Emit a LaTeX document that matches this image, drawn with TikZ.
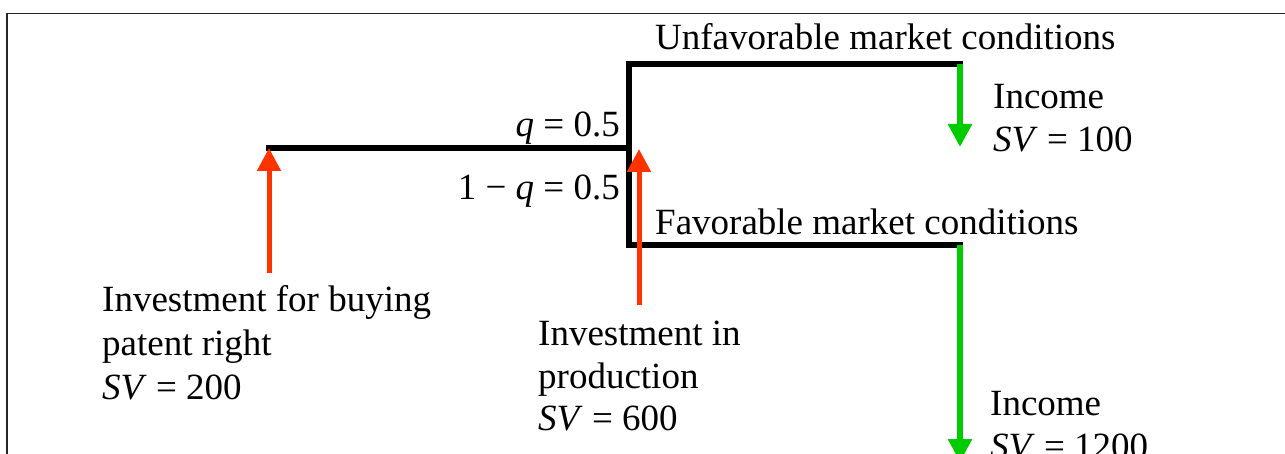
\documentclass[tikz,border=0pt]{standalone}
\usepackage{fontspec}
\setmainfont{Liberation Serif}
\usetikzlibrary{arrows.meta}
\definecolor{redarr}{HTML}{FF3300}
\definecolor{greenarr}{HTML}{00CC00}
\begin{document}
\begin{tikzpicture}[x=1pt,y=-1pt,
  lbl/.style={inner sep=0pt,font=\fontsize{37}{43}\selectfont},
  tree/.style={line width=6pt,line join=miter,line cap=rect},
  upinv/.style={redarr,line width=5pt,-{Triangle[width=23pt,length=23pt]}},
  downinc/.style={greenarr,line width=5.5pt,-{Triangle[width=23pt,length=23pt]}}]
\useasboundingbox (0,0) rectangle (1285,454);
\clip (0,0) rectangle (1285,454);
\draw[line width=1.5pt,black!85] (7,13.5) rectangle (1300,480);
% tree coordinates
\coordinate (root) at (269,148);
\coordinate (fork) at (629,148);
\coordinate (utop) at (629,64);
\coordinate (ftop) at (629,245);
\coordinate (uend) at (960,64);
\coordinate (fend) at (960,245);
\coordinate (uinc) at (960,147);
\coordinate (finc) at (960,462);
\coordinate (inv1) at (269,273);
\coordinate (inv2) at (639,305);
\coordinate (inv2tip) at (639,149);
\draw[tree] (root) -- (fork);
\draw[tree] (uend) -- (utop) -- (ftop) -- (fend);
% arrows
\draw[upinv] (inv1) -- (root);
\draw[upinv] (inv2) -- (inv2tip);
\draw[downinc] (uend) -- (uinc);
\draw[downinc] (fend) -- (finc);
% labels
\node[lbl,anchor=base west] (unfav) at (655,50) {Unfavorable market conditions};
\node[lbl,anchor=base east] (qup) at (620,137) {\textit{q} = 0.5};
\node[lbl,anchor=base east] (qdn) at (620,200) {1 − \textit{q} = 0.5};
\node[lbl,anchor=base west] (fav) at (655,235) {Favorable market conditions};
\node[lbl,anchor=base west] (inc1a) at (993,109) {Income};
\node[lbl,anchor=base west] (inc1b) at (993,152) {\textit{SV} = 100};
\node[lbl,anchor=base west] (pat1) at (102,312) {Investment for buying};
\node[lbl,anchor=base west] (pat2) at (102,355) {patent right};
\node[lbl,anchor=base west] (pat3) at (102,399) {\textit{SV} = 200};
\node[lbl,anchor=base west] (prod1) at (538,345) {Investment in};
\node[lbl,anchor=base west] (prod2) at (538,388) {production};
\node[lbl,anchor=base west] (prod3) at (538,430) {\textit{SV} = 600};
\node[lbl,anchor=base west] (inc2a) at (990,415) {Income};
\node[lbl,anchor=base west] (inc2b) at (990,458) {\textit{SV} = 1200};
\end{tikzpicture}
\end{document}
